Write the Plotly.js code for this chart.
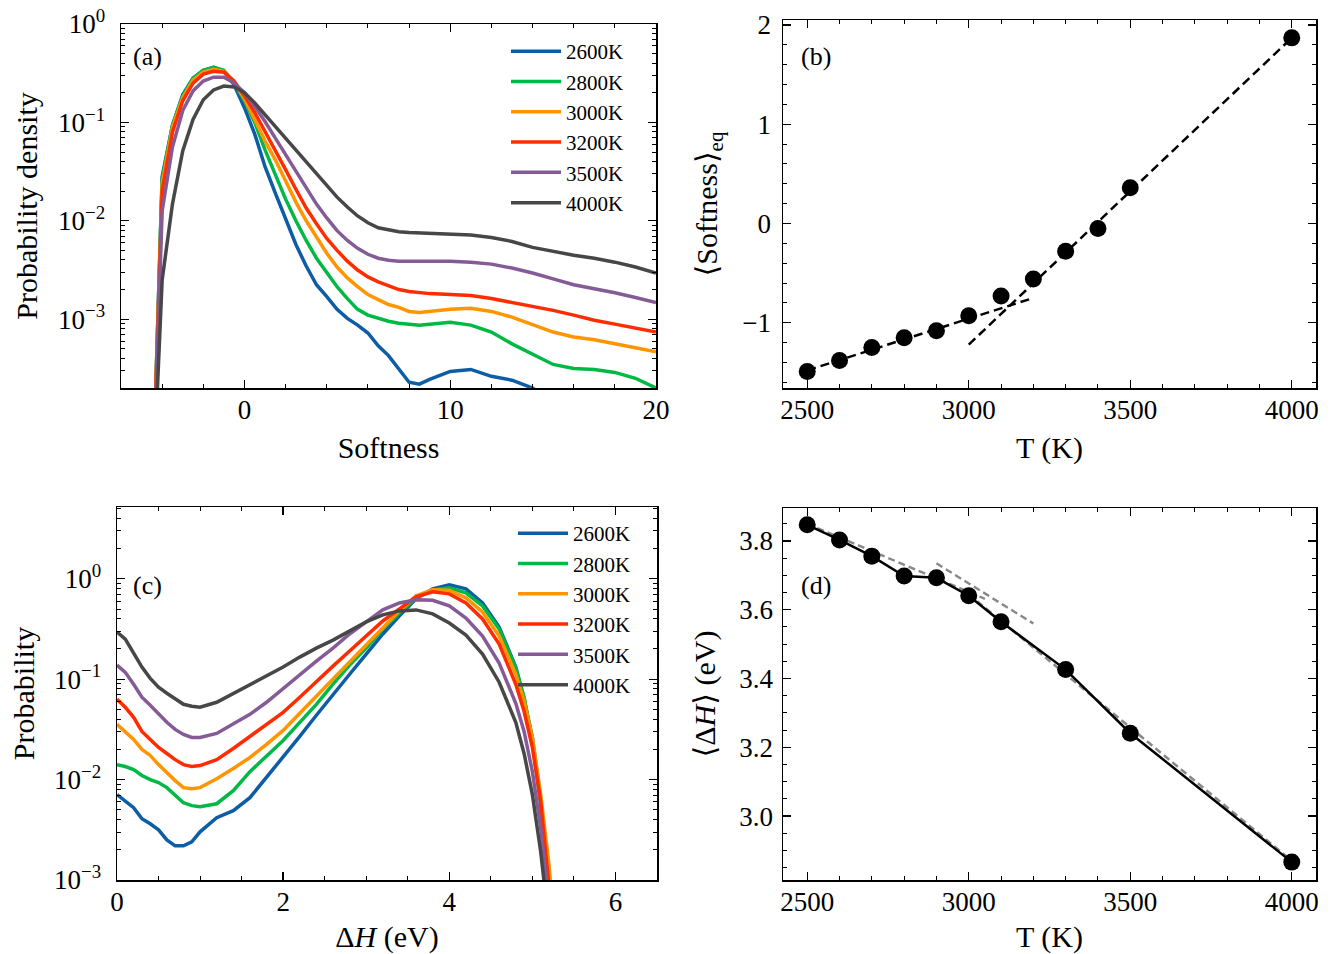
<!DOCTYPE html>
<html>
<head>
<meta charset="utf-8">
<script src="https://cdn.plot.ly/plotly-3.0.1.min.js"></script>
<style>html,body{margin:0;padding:0;background:#fff;}#chart{width:1330px;height:954px;}</style>
</head>
<body>
<div id="chart"></div>
<script>
// ---------- Panel (a): softness distributions ----------
const temperatures = ['2600K', '2800K', '3000K', '3200K', '3500K', '4000K'];
const colors = ['#0C5DA5', '#00B945', '#FF9500', '#FF2C00', '#845B97', '#474747'];

const softness = [-4.5, -4, -3.5, -3, -2.5, -2, -1.5, -1, -0.5, 0, 0.5, 1, 1.5, 2, 2.5, 3, 3.5, 4, 4.5, 5, 5.5, 6, 6.5, 7, 7.5, 8, 8.5, 9, 10, 11, 12, 13, 14, 15, 16, 17, 18, 19, 20];

const pdf_2600 = [1e-5, 2.82e-2, 9.33e-2, 0.191, 0.282, 0.339, 0.363, 0.331, 0.240, 0.141, 7.59e-2, 3.55e-2, 1.91e-2, 1.05e-2, 5.75e-3, 3.47e-3, 2.24e-3, 1.70e-3, 1.26e-3, 1.02e-3, 8.71e-4, 7.24e-4, 5.37e-4, 4.27e-4, 3.16e-4, 2.29e-4, 2.19e-4, 2.45e-4, 2.95e-4, 3.09e-4, 2.63e-4, 2.40e-4, 2.00e-4, 1.41e-4, null, null, null, null, null];
const pdf_2800 = [1e-5, 2.63e-2, 9.33e-2, 0.186, 0.282, 0.339, 0.363, 0.339, 0.251, 0.166, 0.100, 5.25e-2, 2.95e-2, 1.66e-2, 1.00e-2, 6.31e-3, 4.17e-3, 2.95e-3, 2.14e-3, 1.62e-3, 1.26e-3, 1.10e-3, 1.02e-3, 9.55e-4, 9.12e-4, 8.91e-4, 8.71e-4, 8.91e-4, 9.33e-4, 8.71e-4, 7.41e-4, 5.62e-4, 4.37e-4, 3.47e-4, 3.16e-4, 3.09e-4, 2.88e-4, 2.51e-4, 2.00e-4];
const pdf_3000 = [1e-5, 2.40e-2, 8.91e-2, 0.178, 0.269, 0.324, 0.347, 0.331, 0.257, 0.174, 0.107, 6.46e-2, 4.17e-2, 2.51e-2, 1.55e-2, 1.00e-2, 6.76e-3, 4.68e-3, 3.39e-3, 2.63e-3, 2.14e-3, 1.78e-3, 1.58e-3, 1.41e-3, 1.32e-3, 1.20e-3, 1.17e-3, 1.20e-3, 1.26e-3, 1.29e-3, 1.20e-3, 1.05e-3, 8.91e-4, 7.41e-4, 6.61e-4, 6.17e-4, 5.62e-4, 5.13e-4, 4.68e-4];
const pdf_3200 = [1e-5, 2.00e-2, 7.94e-2, 0.166, 0.251, 0.309, 0.331, 0.324, 0.263, 0.186, 0.126, 8.13e-2, 5.25e-2, 3.31e-2, 2.09e-2, 1.35e-2, 9.33e-3, 6.61e-3, 5.01e-3, 3.89e-3, 3.16e-3, 2.69e-3, 2.40e-3, 2.19e-3, 2.00e-3, 1.91e-3, 1.86e-3, 1.82e-3, 1.78e-3, 1.74e-3, 1.62e-3, 1.48e-3, 1.35e-3, 1.23e-3, 1.10e-3, 9.77e-4, 8.91e-4, 8.13e-4, 7.41e-4];
const pdf_3500 = [1e-5, 1.26e-2, 5.62e-2, 0.132, 0.209, 0.263, 0.288, 0.288, 0.251, 0.200, 0.145, 0.102, 6.92e-2, 4.68e-2, 3.16e-2, 2.14e-2, 1.48e-2, 1.07e-2, 7.94e-3, 6.31e-3, 5.25e-3, 4.57e-3, 4.17e-3, 3.98e-3, 3.89e-3, 3.89e-3, 3.89e-3, 3.89e-3, 3.89e-3, 3.80e-3, 3.63e-3, 3.31e-3, 2.95e-3, 2.57e-3, 2.24e-3, 2.04e-3, 1.86e-3, 1.66e-3, 1.48e-3];
const pdf_4000 = [1e-5, 2.51e-3, 1.48e-2, 5.13e-2, 0.107, 0.170, 0.214, 0.234, 0.229, 0.200, 0.158, 0.120, 9.12e-2, 6.76e-2, 5.13e-2, 3.89e-2, 2.95e-2, 2.24e-2, 1.74e-2, 1.38e-2, 1.12e-2, 9.55e-3, 8.51e-3, 8.13e-3, 7.76e-3, 7.59e-3, 7.50e-3, 7.41e-3, 7.24e-3, 7.16e-3, 6.76e-3, 6.17e-3, 5.37e-3, 4.90e-3, 4.47e-3, 4.17e-3, 3.80e-3, 3.39e-3, 2.95e-3];

// ---------- Panel (b): mean softness vs T ----------
const T_b = [2500, 2600, 2700, 2800, 2900, 3000, 3100, 3200, 3300, 3400, 3500, 4000];
const softness_eq = [-1.49, -1.38, -1.25, -1.15, -1.08, -0.93, -0.73, -0.56, -0.28, -0.05, 0.36, 1.87];
const fitLow_T = [2500, 3200];
const fitLow_S = [-1.48, -0.75];
const fitHigh_T = [3000, 4000];
const fitHigh_S = [-1.22, 1.87];

// ---------- Panel (c): barrier distributions ----------
const dH = [0, 0.1, 0.2, 0.3, 0.4, 0.5, 0.6, 0.7, 0.8, 0.9, 1.0, 1.2, 1.4, 1.6, 1.8, 2.0, 2.2, 2.4, 2.6, 2.8, 3.0, 3.2, 3.4, 3.6, 3.8, 4.0, 4.2, 4.4, 4.6, 4.8, 4.9, 5.0, 5.1, 5.2, 5.3];

const p_2600 = [7.08e-3, 6.03e-3, 5.25e-3, 4.07e-3, 3.63e-3, 3.16e-3, 2.51e-3, 2.19e-3, 2.19e-3, 2.40e-3, 3.02e-3, 4.17e-3, 4.90e-3, 6.61e-3, 1.05e-2, 1.66e-2, 2.69e-2, 4.37e-2, 7.08e-2, 0.112, 0.178, 0.282, 0.427, 0.631, 0.794, 0.871, 0.794, 0.575, 0.331, 0.132, 6.31e-2, 2.63e-2, 6.31e-3, 8.91e-4, 1.0e-4];
const p_2800 = [1.41e-2, 1.35e-2, 1.26e-2, 1.10e-2, 1.00e-2, 9.33e-3, 8.32e-3, 6.92e-3, 5.89e-3, 5.50e-3, 5.37e-3, 5.75e-3, 7.76e-3, 1.20e-2, 1.70e-2, 2.45e-2, 3.72e-2, 5.62e-2, 8.91e-2, 0.138, 0.204, 0.316, 0.457, 0.646, 0.776, 0.813, 0.724, 0.537, 0.316, 0.129, 6.61e-2, 2.40e-2, 5.62e-3, 7.08e-4, 1.0e-4];
const p_3000 = [3.55e-2, 3.02e-2, 2.51e-2, 2.00e-2, 1.74e-2, 1.41e-2, 1.17e-2, 9.77e-3, 8.32e-3, 8.13e-3, 8.32e-3, 1.02e-2, 1.29e-2, 1.66e-2, 2.24e-2, 3.09e-2, 4.57e-2, 6.76e-2, 0.100, 0.151, 0.224, 0.331, 0.479, 0.676, 0.776, 0.767, 0.646, 0.468, 0.269, 0.112, 6.03e-2, 2.63e-2, 7.08e-3, 1.41e-3, 1.58e-4];
const p_3200 = [6.31e-2, 5.25e-2, 4.17e-2, 3.02e-2, 2.51e-2, 2.09e-2, 1.82e-2, 1.58e-2, 1.41e-2, 1.35e-2, 1.38e-2, 1.58e-2, 2.04e-2, 2.69e-2, 3.55e-2, 4.68e-2, 6.61e-2, 9.33e-2, 0.135, 0.191, 0.269, 0.380, 0.501, 0.661, 0.741, 0.708, 0.575, 0.398, 0.224, 8.91e-2, 4.79e-2, 2.09e-2, 6.03e-3, 1.0e-3, 1.26e-4];
const p_3500 = [0.138, 0.117, 8.91e-2, 6.61e-2, 5.50e-2, 4.47e-2, 3.72e-2, 3.16e-2, 2.82e-2, 2.63e-2, 2.63e-2, 2.88e-2, 3.63e-2, 4.47e-2, 5.89e-2, 8.13e-2, 0.110, 0.151, 0.204, 0.282, 0.372, 0.490, 0.575, 0.617, 0.610, 0.537, 0.407, 0.269, 0.145, 5.75e-2, 3.02e-2, 1.20e-2, 3.31e-3, 5.62e-4, 1.0e-4];
const p_4000 = [0.295, 0.251, 0.182, 0.132, 0.102, 8.32e-2, 7.24e-2, 6.31e-2, 5.62e-2, 5.37e-2, 5.25e-2, 5.89e-2, 7.24e-2, 8.71e-2, 0.107, 0.132, 0.166, 0.204, 0.245, 0.302, 0.372, 0.437, 0.479, 0.490, 0.447, 0.363, 0.275, 0.178, 9.33e-2, 3.72e-2, 1.82e-2, 7.08e-3, 1.91e-3, 3.55e-4, 6.31e-5];

// ---------- Panel (d): mean barrier vs T ----------
const T_d = [2500, 2600, 2700, 2800, 2900, 3000, 3100, 3300, 3500, 4000];
const meanDH = [3.847, 3.803, 3.756, 3.698, 3.693, 3.641, 3.565, 3.426, 3.241, 2.866];
const fitA_T = [2500, 3050];
const fitA_H = [3.850, 3.632];
const fitB_T = [2900, 3200];
const fitB_H = [3.735, 3.560];
const fitC_T = [3000, 4000];
const fitC_H = [3.645, 2.870];

// tick labels for log axes
const logTickVals = [1e-3, 1e-2, 1e-1, 1];
const logTickText = ['10<sup>\u22123</sup>', '10<sup>\u22122</sup>', '10<sup>\u22121</sup>', '10<sup>0</sup>'];

const FONT = 'Liberation Serif, DejaVu Serif, serif';
const TICK_SIZE = 27, TITLE_SIZE = 30, LEG_SIZE = 21;
const W = 1330, H = 954;
const px = v => v / W;
const py = v => (H - v) / H;

const pdfA = [pdf_2600, pdf_2800, pdf_3000, pdf_3200, pdf_3500, pdf_4000];
const pC = [p_2600, p_2800, p_3000, p_3200, p_3500, p_4000];

const traces = [];
temperatures.forEach((name, i) => {
  traces.push({
    x: softness, y: pdfA[i], type: 'scatter', mode: 'lines', name: name,
    line: {color: colors[i], width: 3.5}, xaxis: 'x', yaxis: 'y', legend: 'legend',
    connectgaps: false
  });
});
traces.push({x: fitLow_T, y: fitLow_S, type: 'scatter', mode: 'lines', showlegend: false,
  line: {color: '#000', width: 2.5, dash: '9px,5px'}, xaxis: 'x2', yaxis: 'y2'});
traces.push({x: fitHigh_T, y: fitHigh_S, type: 'scatter', mode: 'lines', showlegend: false,
  line: {color: '#000', width: 2.5, dash: '9px,5px'}, xaxis: 'x2', yaxis: 'y2'});
traces.push({x: T_b, y: softness_eq, type: 'scatter', mode: 'markers', showlegend: false,
  marker: {color: '#000', size: 17}, xaxis: 'x2', yaxis: 'y2'});

temperatures.forEach((name, i) => {
  traces.push({
    x: dH, y: pC[i], type: 'scatter', mode: 'lines', name: name,
    line: {color: colors[i], width: 3.5}, xaxis: 'x3', yaxis: 'y3', legend: 'legend2'
  });
});
[[fitA_T, fitA_H], [fitB_T, fitB_H], [fitC_T, fitC_H]].forEach(f => {
  traces.push({x: f[0], y: f[1], type: 'scatter', mode: 'lines', showlegend: false,
    line: {color: '#888888', width: 2.4, dash: '7px,4px'}, xaxis: 'x4', yaxis: 'y4'});
});
traces.push({x: T_d, y: meanDH, type: 'scatter', mode: 'lines+markers', showlegend: false,
  line: {color: '#000', width: 2.5}, marker: {color: '#000', size: 17}, xaxis: 'x4', yaxis: 'y4'});

const minorTicks = extra => Object.assign({ticks: 'inside', ticklen: 4, tickwidth: 1, tickcolor: '#000'}, extra);

function axis(extra, titleText, standoff) {
  return Object.assign({
    showline: true, linecolor: '#000', linewidth: 1.5, mirror: 'allticks',
    ticks: 'inside', ticklen: 8, tickwidth: 1.3, tickcolor: '#000',
    showgrid: false, zeroline: false,
    tickfont: {family: FONT, size: TICK_SIZE, color: '#000'},
    title: {text: titleText, standoff: standoff, font: {family: FONT, size: TITLE_SIZE, color: '#000'}}
  }, extra);
}

const layout = {
  width: W, height: H,
  margin: {l: 0, r: 0, t: 0, b: 0},
  paper_bgcolor: '#fff', plot_bgcolor: '#fff',
  font: {family: FONT, color: '#000'},
  xaxis: axis({domain: [px(121), px(656)], range: [-6, 20], tickvals: [0, 10, 20], anchor: 'y', ticklabelstandoff: -3,
    minor: minorTicks({dtick: 2})}, 'Softness', 13),
  yaxis: axis({domain: [py(388), py(24)], type: 'log', range: [Math.log10(2e-4), 0],
    tickvals: logTickVals, ticktext: logTickText, anchor: 'x', ticklabelstandoff: 9,
    minor: minorTicks({dtick: 'D1'})}, 'Probability density', 11),
  xaxis2: axis({domain: [px(783), px(1316)], range: [2425, 4075], tickvals: [2500, 3000, 3500, 4000], anchor: 'y2', ticklabelstandoff: -3,
    minor: minorTicks({dtick: 100})}, 'T (K)', 13),
  yaxis2: axis({domain: [py(388), py(20)], range: [-1.657, 2.05], tickvals: [-1, 0, 1, 2], anchor: 'x2', ticklabelstandoff: 5,
    minor: minorTicks({dtick: 0.2, tick0: 0})}, '\u27E8Softness\u27E9<sub>eq</sub>', 16),
  xaxis3: axis({domain: [px(117), px(657)], range: [0, 6.5], tickvals: [0, 2, 4, 6], anchor: 'y3', ticklabelstandoff: -3,
    minor: minorTicks({dtick: 0.5})}, '\u0394<i>H</i> (eV)', 13),
  yaxis3: axis({domain: [py(880), py(507)], type: 'log', range: [-3, 0.715],
    tickvals: logTickVals, ticktext: logTickText, anchor: 'x3', ticklabelstandoff: 9,
    minor: minorTicks({dtick: 'D1'})}, 'Probability', 10),
  xaxis4: axis({domain: [px(783), px(1316)], range: [2425, 4075], tickvals: [2500, 3000, 3500, 4000], anchor: 'y4', ticklabelstandoff: -3,
    minor: minorTicks({dtick: 100})}, 'T (K)', 10),
  yaxis4: axis({domain: [py(880), py(508)], range: [2.814, 3.896], tickvals: [3.0, 3.2, 3.4, 3.6, 3.8], tickformat: '.1f', anchor: 'x4', ticklabelstandoff: 3,
    minor: minorTicks({dtick: 0.05, tick0: 0})}, '\u27E8\u0394<i>H</i>\u27E9 (eV)', 15),
  legend: {x: px(506), y: py(31), xanchor: 'left', yanchor: 'top', bgcolor: 'rgba(0,0,0,0)', borderwidth: 0,
    font: {family: FONT, size: LEG_SIZE, color: '#000'}, itemwidth: 50, tracegroupgap: 0},
  legend2: {x: px(513), y: py(513), xanchor: 'left', yanchor: 'top', bgcolor: 'rgba(0,0,0,0)', borderwidth: 0,
    font: {family: FONT, size: LEG_SIZE, color: '#000'}, itemwidth: 50, tracegroupgap: 0},
  annotations: [
    {text: '(a)', x: px(131), y: py(57), xref: 'paper', yref: 'paper', xanchor: 'left', yanchor: 'middle', showarrow: false, font: {family: FONT, size: 26, color: '#000'}},
    {text: '(b)', x: px(799), y: py(57), xref: 'paper', yref: 'paper', xanchor: 'left', yanchor: 'middle', showarrow: false, font: {family: FONT, size: 26, color: '#000'}},
    {text: '(c)', x: px(131), y: py(585), xref: 'paper', yref: 'paper', xanchor: 'left', yanchor: 'middle', showarrow: false, font: {family: FONT, size: 26, color: '#000'}},
    {text: '(d)', x: px(799), y: py(585), xref: 'paper', yref: 'paper', xanchor: 'left', yanchor: 'middle', showarrow: false, font: {family: FONT, size: 26, color: '#000'}}
  ]
};

Plotly.newPlot('chart', traces, layout, {displayModeBar: false, staticPlot: true});
</script>
</body>
</html>
